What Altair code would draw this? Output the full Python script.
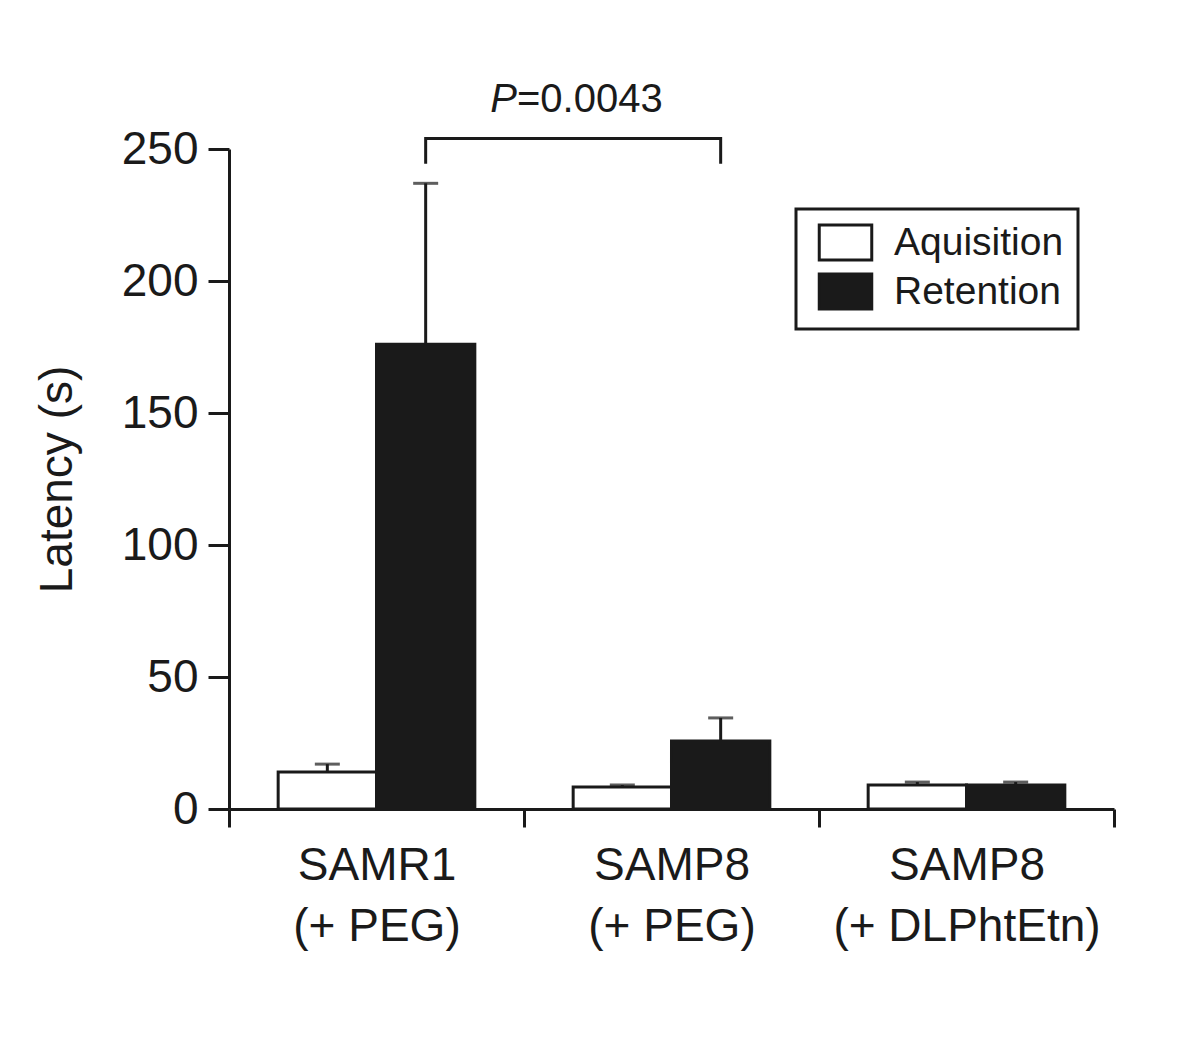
import altair as alt
import pandas as pd

groups = ["SAMR1|(+ PEG)", "SAMP8|(+ PEG)", "SAMP8|(+ DLPhtEtn)"]
phases = ["Aquisition", "Retention"]
aq_mean = [14, 8.3, 9.1]
aq_err = [3, 0.8, 1.1]
ret_mean = [176, 25.8, 9.1]
ret_err = [61, 8.7, 1.1]

bracket_lo = 245
bracket_hi = 254
p_label_y = 264

rows = []
for i, g in enumerate(groups):
    rows.append({"group": g, "phase": "Aquisition", "mean": aq_mean[i], "top": aq_mean[i] + aq_err[i]})
    rows.append({"group": g, "phase": "Retention", "mean": ret_mean[i], "top": ret_mean[i] + ret_err[i]})
df = pd.DataFrame(rows)

bracket = pd.DataFrame({
    "group": [groups[0], groups[0], groups[1], groups[1]],
    "phase": ["Retention"] * 4,
    "y": [bracket_lo, bracket_hi, bracket_hi, bracket_lo],
    "o": [0, 1, 2, 3],
})
ptext = pd.DataFrame({"group": [groups[0]], "y": [p_label_y]})

INK = "#1a1a1a"
FONT = "Liberation Sans"

xenc = alt.X("group:N", sort=groups, title=None,
             scale=alt.Scale(domain=groups, paddingInner=0, paddingOuter=0),
             axis=alt.Axis(tickBand="extent", labelAngle=0, labelExpr="split(datum.label, '|')",
                           labelFontSize=46, labelLineHeight=61, labelPadding=16, labelLimit=0,
                           tickSize=18, tickWidth=3, tickColor=INK, domainWidth=3,
                           domainColor=INK, labelColor=INK, labelFont=FONT))
xoff = alt.XOffset("phase:N", sort=phases,
                   scale=alt.Scale(domain=phases, paddingOuter=0.5, paddingInner=0))
yscale = alt.Scale(domain=[0, 250], nice=False)

bars = alt.Chart(df).mark_bar(stroke=INK, strokeWidth=3).encode(
    x=xenc, xOffset=xoff,
    y=alt.Y("mean:Q", scale=yscale, title="Latency (s)",
            axis=alt.Axis(values=[0, 50, 100, 150, 200, 250], tickSize=21, tickWidth=3,
                          tickColor=INK, domainWidth=3, domainColor=INK, labelFontSize=46,
                          labelPadding=10, labelColor=INK, labelFont=FONT, titleFont=FONT,
                          titleFontSize=46, titleFontWeight="normal", titleColor=INK,
                          titlePadding=40, grid=False)),
    fill=alt.Fill("phase:N", sort=phases,
                  scale=alt.Scale(domain=phases, range=["white", INK]),
                  legend=alt.Legend(title=None, orient="none", legendX=567, legendY=60,
                                    padding=14, strokeColor=INK,
                                    symbolType="M-1.5,-1H1.5V1H-1.5Z", symbolSize=1225,
                                    symbolOffset=16,
                                    symbolStrokeColor=INK, symbolStrokeWidth=3,
                                    symbolOpacity=1, labelFontSize=39, labelFont=FONT,
                                    labelColor=INK, labelOffset=29, rowPadding=2,
                                    labelLimit=0)),
)

err = alt.Chart(df).mark_rule(color=INK, strokeWidth=3).encode(
    x=alt.X("group:N", sort=groups), xOffset=xoff,
    y=alt.Y("mean:Q", scale=yscale), y2="top:Q")

caps = alt.Chart(df).mark_tick(color=INK, thickness=3, size=25, orient="horizontal").encode(
    x=alt.X("group:N", sort=groups), xOffset=xoff,
    y=alt.Y("top:Q", scale=yscale))

brk = alt.Chart(bracket).mark_line(color=INK, strokeWidth=3, strokeJoin="miter", strokeCap="square").encode(
    x=alt.X("group:N", sort=groups), xOffset=xoff,
    y=alt.Y("y:Q", scale=yscale), order="o:Q")

ptxt = alt.Chart(ptext).mark_text(text="P", fontStyle="italic", fontSize=40, font=FONT,
                                  color=INK, align="right", dx=-7, baseline="alphabetic").encode(
    x=alt.X("group:N", sort=groups, bandPosition=1), y=alt.Y("y:Q", scale=yscale))
vtxt = alt.Chart(ptext).mark_text(text="=0.0043", fontSize=40, font=FONT,
                                  color=INK, align="left", dx=-7, baseline="alphabetic").encode(
    x=alt.X("group:N", sort=groups, bandPosition=1), y=alt.Y("y:Q", scale=yscale))

chart = alt.layer(bars, err, caps, brk, ptxt, vtxt).properties(
    width=885, height=660,
    padding={"left": 26, "top": 72, "right": 5, "bottom": 5},
).configure(background="white").configure_view(stroke=None).configure_legend(strokeWidth=3)

chart.save("out.html", embed_options={"renderer": "svg", "actions": False})
